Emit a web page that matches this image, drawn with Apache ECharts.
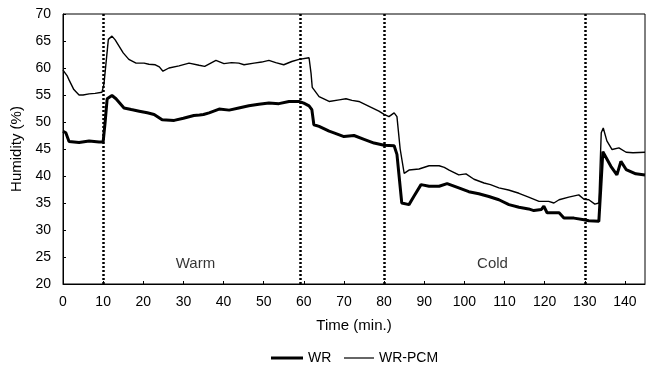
<!DOCTYPE html>
<html>
<head>
<meta charset="utf-8">
<script src="https://cdn.jsdelivr.net/npm/echarts@6/dist/echarts.min.js"></script>
<style>
html,body{margin:0;padding:0;background:#fff;}
#chart{width:646px;height:367px;}
</style>
</head>
<body>
<div id="chart"></div>
<script>
// ---- data ----
const xTicks = [0,10,20,30,40,50,60,70,80,90,100,110,120,130,140];
const yTicks = [20,25,30,35,40,45,50,55,60,65,70];

const wrTime = [0,0.7,1.5,4,6.5,9,10,10.5,11,12.2,13.2,15.2,17,19,21,22.7,24.7,27.7,30,32.6,34,35,36.4,38.9,41.4,43.8,46.3,48.8,51.3,53.8,56.3,58.8,60,61.3,62,62.5,63.8,66.3,67.5,70,72.5,75,77.5,80,82.5,83.2,84.4,86.2,87.4,89.2,91.2,93.7,95.7,98.6,101.1,103.6,106.1,108.6,111.1,113.6,116,117.3,119.2,119.8,120.6,123.6,124.8,127.3,129.8,131,133.5,134,134.5,136.5,138,139,140.3,142.7,145];
const wrVals = [48.3,48.0,46.4,46.2,46.5,46.3,46.3,50.0,54.3,54.9,54.3,52.6,52.3,52.0,51.7,51.4,50.4,50.3,50.7,51.2,51.3,51.4,51.7,52.4,52.2,52.6,53.0,53.3,53.5,53.4,53.8,53.8,53.5,53.0,52.3,49.5,49.2,48.3,48.0,47.3,47.5,46.8,46.1,45.7,45.6,44.0,35.0,34.7,36.2,38.4,38.1,38.1,38.6,37.8,37.1,36.7,36.2,35.6,34.7,34.2,33.9,33.6,33.8,34.4,33.2,33.2,32.2,32.2,31.9,31.7,31.6,38.0,44.5,41.8,40.2,42.7,41.2,40.4,40.2];

const pcmTime = [0,1,1.5,2.7,4,5,6.5,8,9.7,10.2,11.3,12.2,13,14,15,16.4,18.2,20.2,21.4,23,24,24.9,26.4,28.9,31.4,33.9,35.3,38.1,40.1,42,43.8,45.1,47.6,49.5,51.3,53,55,57,58.8,61.3,61.8,62.1,63.8,66.3,68.8,70.5,72,73.7,76,78.7,80,81.2,82.5,83.2,84,85,86.2,88.7,91.2,93.7,95,96.2,98.6,100.4,102.4,104.9,106.5,108.6,111,113.6,116,118.6,121,122.3,123.6,126,128.5,129.8,131,132.5,133.5,134.1,134.6,135.5,136.8,138.5,140.3,142,145];
const pcmVals = [59.6,58.6,57.8,56.0,55.0,55.0,55.2,55.3,55.5,57.0,65.3,65.9,65.2,64.0,62.8,61.6,60.9,60.9,60.7,60.6,60.2,59.4,60.0,60.4,60.9,60.5,60.3,61.4,60.8,61.0,60.9,60.6,60.9,61.1,61.4,61.0,60.6,61.2,61.6,61.9,59.0,56.4,54.7,53.8,54.1,54.3,54.0,53.8,53.0,52.0,51.4,51.0,51.7,51.0,45.0,40.5,41.1,41.3,41.9,41.9,41.6,41.1,40.2,40.4,39.4,38.7,38.4,37.8,37.4,36.8,36.1,35.3,35.3,35.0,35.6,36.1,36.5,35.7,35.6,34.8,35.0,48.0,48.9,46.5,44.9,45.2,44.4,44.3,44.4];

const phaseLines = [10, 59, 80, 130];
const phaseNames = ['Warm', 'Cold'];
const phaseLabelPos = [[33, 23.7], [107, 23.7]];

// ---- build ----
const zip = (t, v) => t.map((x, i) => [x, v[i]]);
const FONT = '"Liberation Sans", Arial, Helvetica, sans-serif';
const legendText = {fontFamily: FONT, fontSize: 14, color: '#000'};

const chart = echarts.init(document.getElementById('chart'), null, {renderer: 'canvas'});
chart.setOption({
  animation: false,
  backgroundColor: '#fff',
  textStyle: {fontFamily: FONT, color: '#000'},
  grid: {left: 63, right: 1, top: 14, bottom: 83, show: true, borderColor: '#000', borderWidth: 1, containLabel: false},
  legend: [
    {
      data: [{name: 'WR', icon: 'rect'}],
      left: 266, top: 346, itemWidth: 32, itemHeight: 3, itemGap: 3,
      itemStyle: {color: '#000'}, textStyle: legendText
    },
    {
      data: [{name: 'WR-PCM', icon: 'rect'}],
      left: 339, top: 346, itemWidth: 30, itemHeight: 1.2,
      itemStyle: {color: '#000'}, textStyle: legendText
    }
  ],
  xAxis: {
    type: 'value', min: 0, max: 145, interval: 10,
    name: 'Time (min.)', nameLocation: 'middle', nameGap: 34,
    nameTextStyle: {fontFamily: FONT, fontSize: 15, color: '#000'},
    axisLine: {lineStyle: {color: '#000', width: 1}},
    axisTick: {inside: true, length: 3, lineStyle: {color: '#000'}},
    axisLabel: {fontFamily: FONT, fontSize: 14, color: '#000', margin: 11, showMaxLabel: false,
      formatter: v => xTicks.includes(v) ? String(v) : ''},
    splitLine: {show: false}
  },
  yAxis: {
    type: 'value', min: 20, max: 70, interval: 5,
    name: 'Humidity (%)', nameLocation: 'middle', nameGap: 37,
    nameTextStyle: {fontFamily: FONT, fontSize: 15, color: '#000'},
    axisLine: {show: true, lineStyle: {color: '#000', width: 1}},
    axisTick: {show: true, inside: true, length: 3, lineStyle: {color: '#000'}},
    axisLabel: {fontFamily: FONT, fontSize: 14, color: '#000', margin: 12,
      formatter: v => yTicks.includes(v) ? String(v) : ''},
    splitLine: {show: false}
  },
  series: [
    {
      name: 'WR', type: 'line', data: zip(wrTime, wrVals),
      symbol: 'none', showSymbol: false,
      lineStyle: {color: '#000', width: 3}, itemStyle: {color: '#000'},
      z: 3
    },
    {
      name: 'WR-PCM', type: 'line', data: zip(pcmTime, pcmVals),
      symbol: 'none', showSymbol: false,
      lineStyle: {color: '#000', width: 1.4}, itemStyle: {color: '#000'},
      z: 3,
      markLine: {
        silent: true, symbol: ['none', 'none'], label: {show: false},
        lineStyle: {color: '#000', width: 2.5, type: [2, 2]},
        data: phaseLines.map(x => ({xAxis: x}))
      }
    },
    {
      name: 'phase', type: 'scatter', symbolSize: 0, silent: true,
      data: phaseNames.map((n, i) => ({name: n, value: phaseLabelPos[i]})),
      label: {show: true, position: 'inside', formatter: p => p.name,
        fontFamily: FONT, fontSize: 15, color: '#000'}
    }
  ]
});
</script>
</body>
</html>
